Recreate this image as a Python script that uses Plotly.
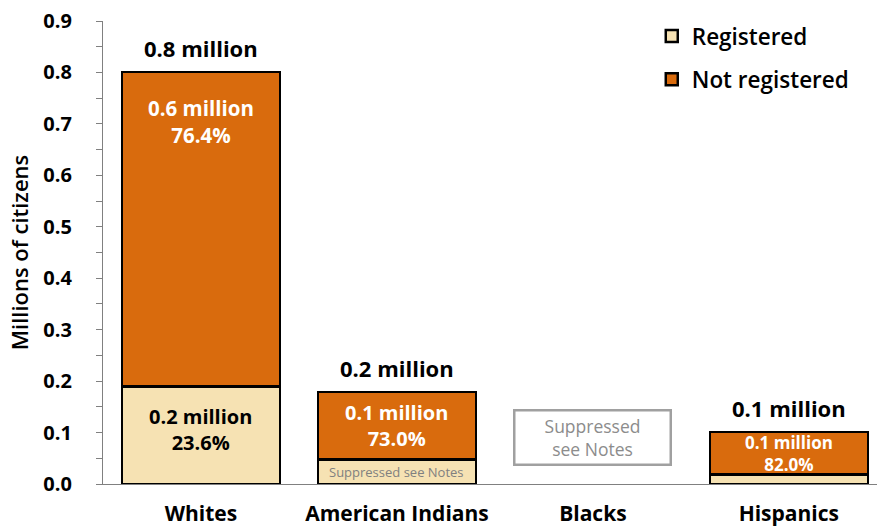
import plotly.graph_objects as go

categories = ["Whites", "American Indians", "Blacks", "Hispanics"]
registered = [0.190, 0.048, None, 0.018]
not_registered = [0.611, 0.131, None, 0.083]
total_labels = ["0.8 million", "0.2 million", None, "0.1 million"]
inner_labels = ["0.6 million<br>76.4%", "0.1 million<br>73.0%", None, "0.1 million<br>82.0%"]
y_ticks = [0.0, 0.1, 0.2, 0.3, 0.4, 0.5, 0.6, 0.7, 0.8, 0.9]
reg_label_whites = "0.2 million<br>23.6%"
suppressed_text = "Suppressed see Notes"
suppressed_box_text = "Suppressed<br>see Notes"

C_REG = "#F6E2B3"
C_NOT = "#D96B0D"
FONT = "Open Sans"

fig = go.Figure()
fig.add_trace(go.Bar(
    x=categories, y=registered, name="Registered", legendgroup="a",
    marker=dict(color=C_REG, line=dict(color="black", width=2.5)),
    width=0.806,
))
fig.add_trace(go.Bar(
    x=categories, y=not_registered, name="Not registered", legendgroup="b",
    marker=dict(color=C_NOT, line=dict(color="black", width=2.5)),
    width=0.806,
))

ann = []
for i, c in enumerate(categories):
    if registered[i] is None:
        continue
    tot = registered[i] + not_registered[i]
    ann.append(dict(x=c, y=tot, text=total_labels[i], showarrow=False,
                    yanchor="bottom", yshift=7,
                    font=dict(family=FONT, size=22, color="black", weight="bold")))
    if i == 0:
        ann.append(dict(x=c, y=tot, text=inner_labels[i], showarrow=False,
                        yanchor="top", yshift=-20,
                        font=dict(family=FONT, size=20.5, color="white", weight="bold")))
        ann.append(dict(x=c, y=registered[i] / 2, text=reg_label_whites, showarrow=False,
                        yanchor="middle", yshift=6,
                        font=dict(family=FONT, size=20, color="black", weight="bold")))
    else:
        size = 20 if i == 1 else 17
        ann.append(dict(x=c, y=registered[i] + not_registered[i] / 2, text=inner_labels[i],
                        showarrow=False, yanchor="middle",
                        font=dict(family=FONT, size=size, color="white", weight="bold")))
# suppressed note in American Indians registered segment
ann.append(dict(x=categories[1], y=registered[1] / 2, text=suppressed_text, showarrow=False,
                yanchor="middle", font=dict(family=FONT, size=13, color="#808080")))
# suppressed box for Blacks
ann.append(dict(x=categories[2], y=0.09, text=suppressed_box_text, showarrow=False,
                yanchor="middle", width=154, height=52,
                bordercolor="#A0A0A0", borderwidth=2.5, borderpad=0,
                font=dict(family=FONT, size=17.5, color="#8C8C8C")))

fig.update_layout(
    width=877, height=527,
    margin=dict(l=103, r=0, t=21, b=43),
    paper_bgcolor="white", plot_bgcolor="white",
    barmode="stack",
    showlegend=True,
    legend=dict(x=0.709, y=1.013, xanchor="left", yanchor="top",
                font=dict(family=FONT, size=22.5, color="black", weight=600),
                traceorder="grouped", tracegroupgap=11, bgcolor="rgba(0,0,0,0)"),
    annotations=ann,
    font=dict(family=FONT),
)
fig.update_xaxes(
    type="category", range=[-0.5, 3.45], automargin=False,
    showline=True, linecolor="#808080", linewidth=1.2,
    ticks="", showgrid=False,
    tickfont=dict(family=FONT, size=21, color="black", weight="bold"),
    ticklabelstandoff=11,
)
fig.update_yaxes(
    range=[0, 0.9], tickvals=y_ticks, tickformat=".1f", automargin=False,
    showline=True, linecolor="#808080", linewidth=1.2,
    ticks="outside", ticklen=6, tickcolor="#808080",
    minor=dict(ticks="outside", ticklen=6, dtick=0.05, tickcolor="#808080"),
    showgrid=False, zeroline=False,
    tickfont=dict(family=FONT, size=20, color="black", weight="bold"),
    ticklabelstandoff=20,
    title=dict(text="Millions of citizens", standoff=8,
               font=dict(family=FONT, size=22, color="black", weight=600)),
)

fig.write_html("out.html", config={"displayModeBar": False},
               post_script="document.body.style.margin='0';")
